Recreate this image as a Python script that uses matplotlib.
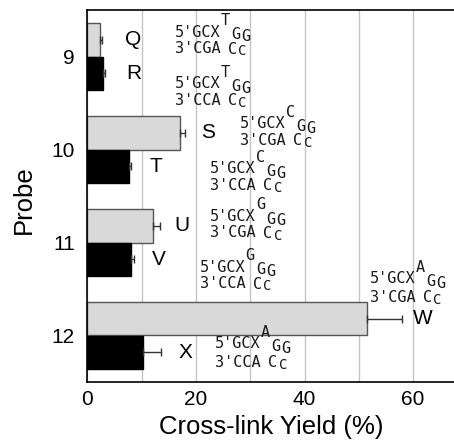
import matplotlib
matplotlib.use('Agg')
import matplotlib.pyplot as plt
import numpy as np

# ---------------- data ----------------
probes = [9, 10, 11, 12]
gray_labels = ['Q', 'S', 'U', 'W']
black_labels = ['R', 'T', 'V', 'X']
gray_yield = [2.3, 17.0, 12.1, 51.5]
gray_err = [0.3, 0.9, 1.3, 6.4]
black_yield = [2.9, 7.6, 8.0, 10.2]
black_err = [0.4, 0.4, 0.5, 3.4]
loop_bases = ['T', 'C', 'G', 'A']
gray_strand = "3'CGA"
black_strand = "3'CCA"
x_tick_labels = ['0', '', '20', '', '40', '', '60', '']

# ---------------- layout (not data) ----------------
gray_label_x = [8.4, 22.2, 17.4, 61.8]
black_label_x = [8.6, 12.6, 13.2, 18.0]
gray_seq_xy = [(16.1, 8.785), (28.1, 9.772), (22.6, 10.766), (52.0, 11.439)]
black_seq_xy = [(16.1, 9.342), (22.6, 10.256), (20.7, 11.314), (23.5, 12.138)]
gray_seq_gap = [12.0, 11.8, 12.0, 13.2]
black_seq_gap = [11.8, 11.8, 11.8, 13.2]

W, H = 454, 441
fig = plt.figure(figsize=(W / 100, H / 100), dpi=100)
ax = fig.add_axes([87.4 / W, 59 / H, 380 / W, 372 / H])

bh = 0.355
y = np.array(probes, dtype=float)
ax.barh(y - bh / 2, gray_yield, height=bh, color='#d9d9d9', edgecolor='#555555',
        linewidth=1.0, zorder=2)
ax.barh(y + bh / 2, black_yield, height=bh, color='#000000', edgecolor='#000000',
        linewidth=1.0, zorder=2)
ax.errorbar(gray_yield, y - bh / 2, xerr=[np.zeros(4), gray_err], fmt='none',
            ecolor='#333333', elinewidth=1.0, capsize=3, capthick=1.0, zorder=3)
ax.errorbar(black_yield, y + bh / 2, xerr=[np.zeros(4), black_err], fmt='none',
            ecolor='#333333', elinewidth=1.0, capsize=3, capthick=1.0, zorder=3)

ax.set_xlim(0, 70)
ax.set_ylim(12.5, 8.5)
ax.set_xticks(np.arange(0, 71, 10))
ax.set_xticklabels(x_tick_labels)
ax.set_yticks(probes)
ax.set_yticklabels([str(p) for p in probes])
ax.tick_params(axis='both', length=0, labelsize=15)
ax.tick_params(axis='x', pad=5.5)
ax.tick_params(axis='y', pad=9)
for lab in ax.get_xticklabels() + ax.get_yticklabels():
    lab.set_family('Liberation Sans')
ax.set_axisbelow(True)
ax.grid(axis='x', color='#c4c4c4', linewidth=1.0, zorder=0)
for s in ['left', 'top', 'bottom', 'right']:
    ax.spines[s].set_linewidth(1.2)
    ax.spines[s].set_color('black')

# bar letters
for i in range(4):
    ax.text(gray_label_x[i], y[i] - bh / 2, gray_labels[i], ha='center', va='center',
            fontsize=15, family='Liberation Sans')
    ax.text(black_label_x[i], y[i] + bh / 2, black_labels[i], ha='center', va='center',
            fontsize=15, family='Liberation Sans')


def hairpin(x, yy, loop, strand, gap):
    kw = dict(xycoords='data', textcoords='offset points', fontsize=11,
              family='DejaVu Sans Mono', ha='left', va='baseline', color='#1a1a1a',
              annotation_clip=False)
    ax.annotate("5'GCX", (x, yy), xytext=(0, 0), **kw)
    ax.annotate(loop, (x, yy), xytext=(33.1, 8.2), **kw)
    ax.annotate('G', (x, yy), xytext=(40.5, -2.0), **kw)
    ax.annotate('G', (x, yy), xytext=(47.6, -3.2), **kw)
    ax.annotate(strand, (x, yy), xytext=(0, -gap), **kw)
    ax.annotate('C', (x, yy), xytext=(38.4, -gap - 0.4), **kw)
    kw2 = dict(kw)
    kw2['fontsize'] = 10
    ax.annotate('C', (x, yy), xytext=(45.8, -gap - 1.6), **kw2)


for i in range(4):
    hairpin(gray_seq_xy[i][0], gray_seq_xy[i][1], loop_bases[i], gray_strand, gray_seq_gap[i])
    hairpin(black_seq_xy[i][0], black_seq_xy[i][1], loop_bases[i], black_strand, black_seq_gap[i])

fig.text(271.5 / W, 1 - 427 / H, 'Cross-link Yield (%)', ha='center', va='center',
         fontsize=18.5, family='Liberation Sans')
fig.text(24 / W, 1 - 200 / H, 'Probe', ha='center', va='center', rotation=90,
         fontsize=18.5, family='Liberation Sans')

fig.savefig('out.png', dpi=100)
